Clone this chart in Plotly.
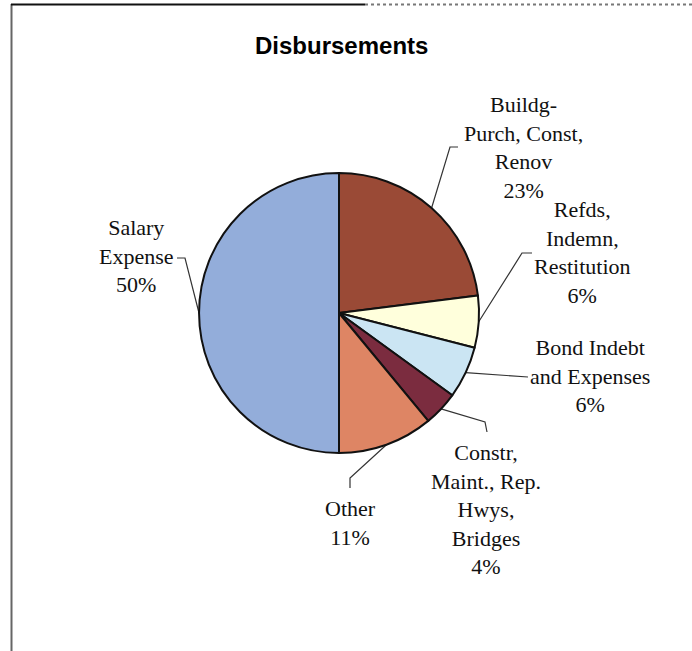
import math
import plotly.graph_objects as go

# ---- data ----
categories = [
    "Buildg-<br>Purch, Const,<br>Renov",
    "Refds,<br>Indemn,<br>Restitution",
    "Bond Indebt<br>and Expenses",
    "Constr,<br>Maint., Rep.<br>Hwys,<br>Bridges",
    "Other",
    "Salary<br>Expense",
]
values = [23, 6, 6, 4, 11, 50]
colors = ["#9A4A36", "#FFFFDC", "#CBE5F3", "#7B2C3F", "#DE8564", "#93ADDA"]

# ---- layout constants (pixels) ----
W, H = 692, 651
CX, CY, R = 339, 313, 140
FONT = "Liberation Serif, Times New Roman, serif"

# label block centres and leader elbows (layout positions)
label_pos = [(523, 147), (582, 252), (590, 376), (486, 509), (350, 523), (136, 256)]
elbows = [
    [(450, 147), (458, 147)],
    [(522, 253), (532, 253)],
    [(520, 376), (528, 377)],
    [(485, 422), (487, 432)],
    [(350, 478), (350, 488)],
    [(185, 258), (177, 258)],
]

fig = go.Figure()
fig.add_trace(go.Pie(
    values=values,
    labels=[c.replace("<br>", " ") for c in categories],
    sort=False,
    direction="clockwise",
    rotation=0,
    marker=dict(colors=colors, line=dict(color="#111111", width=2)),
    textinfo="none",
    hoverinfo="skip",
    showlegend=False,
    domain=dict(x=[(CX - R) / W, (CX + R) / W], y=[1 - (CY + R) / H, 1 - (CY - R) / H]),
))

total = sum(values)
cum = 0
annotations = []
for i, v in enumerate(values):
    mid = (cum + v / 2) / total * 2 * math.pi
    cum += v
    px = CX + R * math.sin(mid)
    py = CY - R * math.cos(mid)
    xs = [px] + [p[0] for p in elbows[i]]
    ys = [py] + [p[1] for p in elbows[i]]
    fig.add_trace(go.Scatter(x=xs, y=ys, mode="lines",
                             line=dict(color="#333333", width=1.2),
                             hoverinfo="skip", showlegend=False))
    pct = round(v / total * 100)
    annotations.append(dict(
        x=label_pos[i][0], y=label_pos[i][1], xref="x", yref="y",
        text=f"{categories[i]}<br>{pct}%", showarrow=False,
        font=dict(family=FONT, size=22, color="#111111"),
        xanchor="center", yanchor="middle", align="center",
    ))

annotations.append(dict(
    x=341, y=45, xref="x", yref="y", text="<b>Disbursements</b>", showarrow=False,
    font=dict(family="Liberation Sans, Arial, sans-serif", size=24, color="#000000"),
    xanchor="center", yanchor="middle",
))

shapes = [
    dict(type="line", xref="x", yref="y", x0=11.5, x1=11.5, y0=4, y1=651,
         line=dict(color="#666666", width=2)),
    dict(type="line", xref="x", yref="y", x0=11, x1=365, y0=4.5, y1=4.5,
         line=dict(color="#111111", width=2)),
    dict(type="line", xref="x", yref="y", x0=365, x1=692, y0=4.5, y1=4.5,
         line=dict(color="#777777", width=2, dash="dot")),
]

fig.update_layout(
    width=W, height=H,
    margin=dict(l=0, r=0, t=0, b=0),
    paper_bgcolor="white", plot_bgcolor="rgba(0,0,0,0)",
    xaxis=dict(range=[0, W], visible=False, domain=[0, 1], fixedrange=True),
    yaxis=dict(range=[H, 0], visible=False, domain=[0, 1], fixedrange=True),
    annotations=annotations,
    shapes=shapes,
)

fig.write_html("out.html")
